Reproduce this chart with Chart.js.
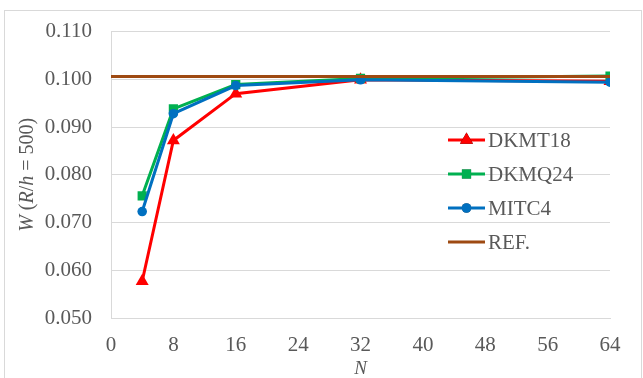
<!DOCTYPE html>
<html>
<head>
<meta charset="utf-8">
<script src="https://cdn.jsdelivr.net/npm/chart.js@4"></script>
<style>
  html, body { margin: 0; padding: 0; background: #ffffff; }
  #wrap { width: 643px; height: 378px; position: relative; }
</style>
</head>
<body>
<div id="wrap"><canvas id="c" width="643" height="378"></canvas></div>
<script>
// Mesh density N and normalised deflection W (R/h = 500)
const meshN   = [4, 8, 16, 32, 64];
const dkmt18  = [0.0577, 0.0872, 0.0970, 0.0999, 0.0996];
const dkmq24  = [0.0756, 0.0938, 0.0989, 0.1002, 0.1007];
const mitc4   = [0.0723, 0.0928, 0.0987, 0.0999, 0.0994];
const refN    = [0, 64];
const refW    = [0.1006, 0.1006];

const xTicks = [0, 8, 16, 24, 32, 40, 48, 56, 64];
const yTicks = [0.050, 0.060, 0.070, 0.080, 0.090, 0.100, 0.110];

const FONT = "'Liberation Serif', 'Times New Roman', serif";
const TEXT = '#595959';
const GRID = '#d9d9d9';

const series = [
  { label: 'DKMT18', x: meshN, y: dkmt18, color: '#ff0000', style: 'triangle', r: 7.5 },
  { label: 'DKMQ24', x: meshN, y: dkmq24, color: '#00b050', style: 'rect',     r: 6.5 },
  { label: 'MITC4',  x: meshN, y: mitc4,  color: '#0070c0', style: 'circle',   r: 4.8 },
  { label: 'REF.',   x: refN,  y: refW,   color: '#9e4a12', style: false,      r: 0 }
];

const datasets = series.map((s, i) => ({
  label: s.label,
  data: s.x.map((v, k) => ({ x: v, y: s.y[k] })),
  borderColor: s.color,
  backgroundColor: s.color,
  borderWidth: 3,
  pointStyle: s.style,
  pointRadius: s.r,
  pointBorderWidth: 0,
  pointHoverRadius: s.r,
  tension: 0,
  order: series.length - i
}));

// Frame around the whole figure
const framePlugin = {
  id: 'frame',
  beforeDraw(chart) {
    const ctx = chart.ctx;
    ctx.save();
    ctx.fillStyle = '#ffffff';
    ctx.fillRect(0, 0, chart.width, chart.height);
    ctx.strokeStyle = GRID;
    ctx.lineWidth = 1;
    ctx.strokeRect(4.5, 10.5, 637, 400);
    ctx.restore();
  }
};

// Axis titles with mixed italic / upright runs
const axisTitlePlugin = {
  id: 'axisTitles',
  afterDraw(chart) {
    const ctx = chart.ctx;
    const area = chart.chartArea;
    const runs = [
      ['W', true], [' (', false], ['R', true], ['/', false], ['h', true], [' = 500)', false]
    ];
    const size = 20;
    ctx.save();
    ctx.fillStyle = TEXT;
    ctx.textBaseline = 'middle';
    let total = 0;
    runs.forEach(([t, it]) => {
      ctx.font = (it ? 'italic ' : '') + size + 'px ' + FONT;
      total += ctx.measureText(t).width;
    });
    ctx.save();
    ctx.translate(28, (area.top + area.bottom) / 2);
    ctx.rotate(-Math.PI / 2);
    let x = -total / 2;
    runs.forEach(([t, it]) => {
      ctx.font = (it ? 'italic ' : '') + size + 'px ' + FONT;
      ctx.fillText(t, x, 0);
      x += ctx.measureText(t).width;
    });
    ctx.restore();
    // x axis title
    ctx.font = 'italic 19px ' + FONT;
    ctx.textAlign = 'center';
    ctx.fillText('N', (area.left + area.right) / 2, 369);
    ctx.restore();
  }
};

// Legend drawn inside the plot area
const legendPlugin = {
  id: 'innerLegend',
  afterDraw(chart) {
    const ctx = chart.ctx;
    const x0 = 448, x1 = 485, tx = 488;
    const rows = [140, 174, 208, 242];
    ctx.save();
    series.forEach((s, i) => {
      const y = rows[i];
      ctx.strokeStyle = s.color;
      ctx.lineWidth = 3;
      ctx.beginPath();
      ctx.moveTo(x0, y);
      ctx.lineTo(x1, y);
      ctx.stroke();
      if (s.style) {
        Chart.helpers.drawPoint(ctx, {
          pointStyle: s.style, radius: s.r, rotation: 0, borderWidth: 0
        }, (x0 + x1) / 2, y);
        ctx.fillStyle = s.color;
        ctx.fill();
      }
      ctx.fillStyle = TEXT;
      ctx.font = '21px ' + FONT;
      ctx.textBaseline = 'middle';
      ctx.textAlign = 'left';
      ctx.fillText(s.label, tx, y + 1);
    });
    ctx.restore();
  }
};

new Chart(document.getElementById('c'), {
  type: 'line',
  data: { datasets },
  plugins: [framePlugin, axisTitlePlugin, legendPlugin],
  options: {
    responsive: false,
    animation: false,
    events: [],
    layout: { padding: { left: 0, right: 33, top: 31, bottom: 0 } },
    plugins: { legend: { display: false }, tooltip: { enabled: false } },
    scales: {
      x: {
        type: 'linear',
        min: 0, max: 64,
        afterBuildTicks(scale) { scale.ticks = xTicks.map(v => ({ value: v })); },
        afterFit(scale) { scale.height = 60; },
        grid: { display: false, drawTicks: false },
        border: { display: true, color: GRID, width: 1 },
        ticks: {
          color: TEXT, font: { family: FONT, size: 21 }, padding: 15,
          maxRotation: 0, autoSkip: false,
          callback: v => String(v)
        }
      },
      y: {
        type: 'linear',
        min: 0.05, max: 0.11,
        afterBuildTicks(scale) { scale.ticks = yTicks.map(v => ({ value: v })); },
        afterFit(scale) { scale.width = 111; },
        grid: { color: GRID, lineWidth: 1, drawTicks: false },
        border: { display: true, color: GRID, width: 1 },
        ticks: {
          color: TEXT, font: { family: FONT, size: 21 }, padding: 19,
          callback: v => v.toFixed(3)
        }
      }
    }
  }
});
</script>
</body>
</html>
